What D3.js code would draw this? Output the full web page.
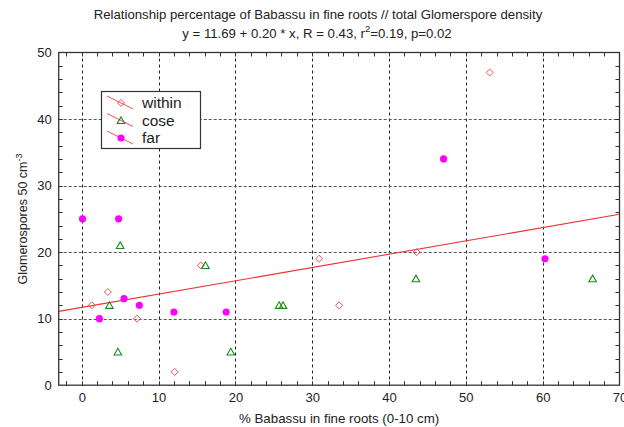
<!DOCTYPE html>
<html><head><meta charset="utf-8">
<script src="https://cdn.jsdelivr.net/npm/d3@7"></script>
<style>
body{margin:0;background:#fff;}
svg{display:block;font-family:"Liberation Sans",Arial,sans-serif;}
</style></head>
<body>
<svg id="c" width="624" height="427"></svg>
<script>
const titleLine1 = "Relationship percentage of Babassu in fine roots // total Glomerspore density";
const xLabel = "% Babassu in fine roots (0-10 cm)";
const xTicks = [0,10,20,30,40,50,60,70];
const yTicks = [0,10,20,30,40,50];
const regIntercept = 11.69, regSlope = 0.20;

const withinX = [53.1, 43.6, 30.9, 33.5, 1.3, 3.4, 7.2, 15.5, 12.1];
const withinY = [47, 20, 19, 12, 12, 14, 10, 18, 2];
const coseX = [5.0, 16.1, 3.6, 4.7, 19.4, 25.7, 26.2, 43.5, 66.5];
const coseY = [21, 18, 12, 5, 5, 12, 12, 16, 16];
const farX = [0.1, 4.8, 5.5, 7.5, 2.3, 12.0, 18.8, 47.1, 60.3];
const farY = [25, 25, 13, 12, 10, 11, 11, 34, 19];
const seriesNames = ["within", "cose", "far"];

const svg = d3.select("#c");
const L = 58.7, R = 619.5, T = 52.5, B = 385.2;
const x = d3.scaleLinear().domain([-3, 70]).range([L, R]);
const y = d3.scaleLinear().domain([0, 50]).range([B, T]);
const axisCol = "#333";
const txtCol = "#222";

// grid
const g = svg.append("g");
g.selectAll(".vg").data(xTicks.filter(d => d > -3 && d < 70)).enter().append("line")
  .attr("x1", d => Math.round(x(d)) + 0.5).attr("x2", d => Math.round(x(d)) + 0.5)
  .attr("y1", T).attr("y2", B)
  .attr("stroke", "#222").attr("stroke-dasharray", "3,3").attr("stroke-width", 1);
g.selectAll(".hg").data(yTicks.filter(d => d > 0 && d < 50)).enter().append("line")
  .attr("x1", L).attr("x2", R)
  .attr("y1", d => Math.round(y(d)) + 0.5).attr("y2", d => Math.round(y(d)) + 0.5)
  .attr("stroke", "#555").attr("stroke-dasharray", "3,2").attr("stroke-width", 1.2);

// minor ticks (inward) on all sides
const xMinor = d3.range(-2, 70, 2);
const yMinor = d3.range(2, 50, 2);
const tk = svg.append("g").attr("stroke", axisCol).attr("stroke-width", 1);
xMinor.forEach(d => {
  const px = Math.round(x(d)) + 0.5;
  tk.append("line").attr("x1", px).attr("x2", px).attr("y1", B).attr("y2", B - 4);
  tk.append("line").attr("x1", px).attr("x2", px).attr("y1", T).attr("y2", T + 4);
});
yMinor.forEach(d => {
  const py = Math.round(y(d)) + 0.5;
  tk.append("line").attr("y1", py).attr("y2", py).attr("x1", L).attr("x2", L + 4);
  tk.append("line").attr("y1", py).attr("y2", py).attr("x1", R).attr("x2", R - 4);
});

// frame
svg.append("rect").attr("x", L).attr("y", T).attr("width", R - L).attr("height", B - T)
  .attr("fill", "none").attr("stroke", axisCol).attr("stroke-width", 1.3);

// axes labels via d3 axes
const xAxis = svg.append("g").attr("transform", `translate(0,${B})`)
  .call(d3.axisBottom(x).tickValues(xTicks).tickSize(0).tickPadding(8));
xAxis.select(".domain").remove();
xAxis.selectAll("text").attr("font-size", 13).attr("fill", txtCol)
  .attr("font-family", "Liberation Sans, Arial, sans-serif");
const yAxis = svg.append("g").attr("transform", `translate(${L},0)`)
  .call(d3.axisLeft(y).tickValues(yTicks).tickSize(0).tickPadding(7));
yAxis.select(".domain").remove();
yAxis.selectAll("text").attr("font-size", 13).attr("fill", txtCol)
  .attr("font-family", "Liberation Sans, Arial, sans-serif");

// clip for line
svg.append("clipPath").attr("id", "pc").append("rect")
  .attr("x", L).attr("y", T).attr("width", R - L).attr("height", B - T);

// regression line
svg.append("line").attr("clip-path", "url(#pc)")
  .attr("x1", x(-3)).attr("y1", y(regIntercept + regSlope * -3))
  .attr("x2", x(70)).attr("y2", y(regIntercept + regSlope * 70))
  .attr("stroke", "#f03030").attr("stroke-width", 1.1);

// markers
function drawDiamond(sel) {
  sel.append("path").attr("d", "M0,-3.5L3.5,0L0,3.5L-3.5,0Z")
    .attr("fill", "none").attr("stroke", "#f05050").attr("stroke-width", 1);
}
function drawTri(sel) {
  sel.append("path").attr("d", "M0,-3.6L3.8,3L-3.8,3Z")
    .attr("fill", "none").attr("stroke", "#1a8a1a").attr("stroke-width", 1.1);
}
function drawCirc(sel) {
  sel.append("circle").attr("r", 3.6).attr("fill", "#ff00ff");
}
const within = withinX.map((d, i) => ({x: d, y: withinY[i]}));
const cose = coseX.map((d, i) => ({x: d, y: coseY[i]}));
const far = farX.map((d, i) => ({x: d, y: farY[i]}));

svg.append("g").selectAll("g").data(within).enter().append("g")
  .attr("transform", d => `translate(${x(d.x)},${y(d.y)})`).each(function(){ drawDiamond(d3.select(this)); });
svg.append("g").selectAll("g").data(cose).enter().append("g")
  .attr("transform", d => `translate(${x(d.x)},${y(d.y)})`).each(function(){ drawTri(d3.select(this)); });
svg.append("g").selectAll("g").data(far).enter().append("g")
  .attr("transform", d => `translate(${x(d.x)},${y(d.y)})`).each(function(){ drawCirc(d3.select(this)); });

// legend
const lg = svg.append("g");
lg.append("rect").attr("x", 101.5).attr("y", 91.5).attr("width", 99).attr("height", 57)
  .attr("fill", "#fff").attr("stroke", axisCol).attr("stroke-width", 1.2);
const drawers = [drawDiamond, drawTri, drawCirc];
const rowY = [103, 120.5, 138];
seriesNames.forEach((n, i) => {
  const cy = rowY[i];
  lg.append("line").attr("x1", 107).attr("y1", cy - 7).attr("x2", 133).attr("y2", cy + 6)
    .attr("stroke", "#f05050").attr("stroke-width", 1);
  const mg = lg.append("g").attr("transform", `translate(121,${cy})`);
  drawers[i](mg);
  lg.append("text").attr("x", 142).attr("y", cy + 5).attr("font-size", 15.5)
    .attr("fill", txtCol).text(n);
});

// titles
svg.append("text").attr("x", 318).attr("y", 18.5).attr("text-anchor", "middle")
  .attr("font-size", 13.2).attr("fill", txtCol).text(titleLine1);
const t2 = svg.append("text").attr("x", 317).attr("y", 37.5).attr("text-anchor", "middle")
  .attr("font-size", 13.2).attr("fill", txtCol);
t2.append("tspan").text("y = 11.69 + 0.20 * x, R = 0.43, r");
t2.append("tspan").attr("dy", -5.5).attr("font-size", 9.5).text("2");
t2.append("tspan").attr("dy", 5.5).text("=0.19, p=0.02");

// x label
svg.append("text").attr("x", (L + R) / 2).attr("y", 423).attr("text-anchor", "middle")
  .attr("font-size", 13.3).attr("fill", txtCol).text(xLabel);
// y label
const yl = svg.append("text").attr("transform", `translate(27,219) rotate(-90)`)
  .attr("text-anchor", "middle").attr("font-size", 12.5).attr("fill", txtCol);
yl.append("tspan").text("Glomerospores 50 cm");
yl.append("tspan").attr("dy", -5).attr("font-size", 9).text("-3");
</script>
</body></html>
